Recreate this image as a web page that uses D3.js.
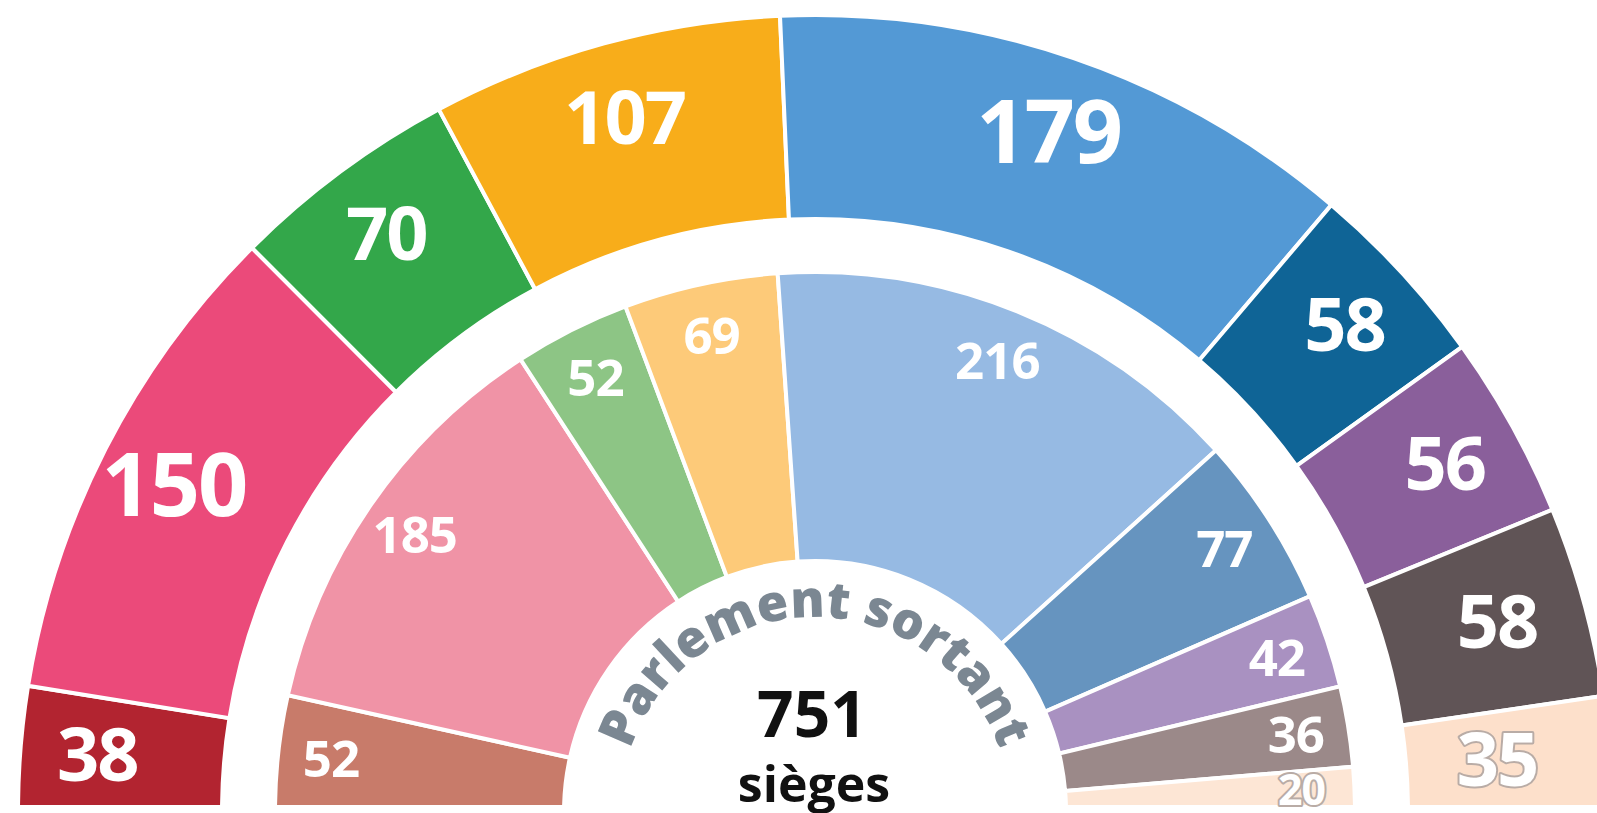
<!DOCTYPE html>
<html><head><meta charset="utf-8">
<script src="https://cdn.jsdelivr.net/npm/d3@7"></script>
<style>
html,body{margin:0;padding:0;background:#fff;}
svg{display:block;}
</style></head>
<body>
<svg id="chart" width="1597" height="813"></svg>
<script>
// ---- data ----
const outerValues = [38, 150, 70, 107, 179, 58, 56, 58, 35];
const outerColors = ["#b22430", "#eb4a7a", "#33a74a", "#f8ad1a", "#5399d5", "#0f6496", "#8a5f9b", "#605456", "#fde0cb"];
const innerValues = [52, 185, 52, 69, 216, 77, 42, 36, 20];
const innerColors = ["#c87b6a", "#f093a6", "#8dc585", "#fdca79", "#96bae3", "#6694bf", "#a991c1", "#9b8989", "#fde6d5"];
const centerTitle = "Parlement sortant";
const centerTotal = "751";
const centerUnit = "sièges";

// ---- layout ----
const W = 1597, H = 813;
const cx = 815, cy = 812;
const clipY = 805;
const R = {outerOut: 797, outerIn: 593, innerOut: 540, innerIn: 251};
const FONT = "'Open Sans', 'Noto Sans', sans-serif";

const svg = d3.select("#chart");
svg.append("defs").append("clipPath").attr("id", "clip")
  .append("rect").attr("x", 0).attr("y", 0).attr("width", W).attr("height", clipY);

const g = svg.append("g").attr("clip-path", "url(#clip)");
const root = g.append("g").attr("transform", `translate(${cx},${cy})`);

const pie = d3.pie().sort(null).value(d => d)
  .startAngle(-Math.PI / 2).endAngle(Math.PI / 2);

function ring(values, colors, rIn, rOut, cls) {
  const arcs = pie(values);
  const arc = d3.arc().innerRadius(rIn).outerRadius(rOut);
  root.selectAll("path." + cls).data(arcs).enter().append("path")
    .attr("class", cls)
    .attr("d", arc)
    .attr("fill", (d, i) => colors[i])
    .attr("stroke", "#fff")
    .attr("stroke-width", 4)
    .attr("stroke-linejoin", "miter");
  return arcs;
}

const outerArcs = ring(outerValues, outerColors, R.outerIn, R.outerOut, "outer");
const innerArcs = ring(innerValues, innerColors, R.innerIn, R.innerOut, "inner");

const labelLayer = svg.append("g").attr("transform", `translate(${cx},${cy})`);

function labels(arcs, colors, r, sizeFn, spacing, cls) {
  labelLayer.selectAll("text." + cls).data(arcs).enter().append("text")
    .attr("class", cls)
    .each(function (d, i) {
      const mid = (d.startAngle + d.endAngle) / 2;
      const size = sizeFn(d, r);
      let x = r * Math.sin(mid), y = -r * Math.cos(mid);
      // keep labels inside the visible page width / height
      x = Math.min(x, W - 100 - cx);
      y = Math.min(y, (clipY - cy) - size * 0.36);
      const light = d3.hsl(colors[i]).l > 0.85;
      d3.select(this)
        .attr("x", x).attr("y", y)
        .attr("dy", "0.36em")
        .attr("text-anchor", "middle")
        .attr("font-family", FONT)
        .attr("font-weight", 700)
        .attr("font-size", size)
        .attr("letter-spacing", spacing)
        .attr("fill", "#fff")
        .attr("stroke", light ? "#b9aca6" : "none")
        .attr("stroke-width", light ? 4 : 0)
        .attr("paint-order", "stroke")
        .attr("stroke-linejoin", "round")
        .text(d.data);
    });
}

labels(outerArcs, outerColors, 720, d => d.data >= 150 ? 88 : 74, -2, "olab");
labels(innerArcs, innerColors, 487, (d, r) => Math.min(51, (d.endAngle - d.startAngle) * r * 1.05), -1, "ilab");

// ---- centre ----
const textR = 195;
svg.append("defs").append("path").attr("id", "tp")
  .attr("d", `M${cx - textR},${cy} A${textR},${textR} 0 0 1 ${cx + textR},${cy}`);

const title = svg.append("text")
  .attr("font-family", FONT).attr("font-weight", 800).attr("font-size", 51)
  .attr("fill", "#7b8792");
const tp = title.append("textPath").attr("href", "#tp")
  .attr("startOffset", "50%").attr("text-anchor", "middle")
  .text(centerTitle);
// spread letters over the arc span (~142 degrees)
const target = textR * (142 * Math.PI / 180);
const len0 = tp.node().getComputedTextLength();
const ls = Math.max(0, (target - len0) / (centerTitle.length - 1));
title.attr("letter-spacing", ls.toFixed(2));

svg.append("text").attr("x", cx - 3).attr("y", 737)
  .attr("text-anchor", "middle")
  .attr("font-family", FONT).attr("font-weight", 700).attr("font-size", 64)
  .attr("fill", "#111").text(centerTotal);
svg.append("text").attr("x", cx - 1).attr("y", 802)
  .attr("text-anchor", "middle")
  .attr("font-family", FONT).attr("font-weight", 700).attr("font-size", 50)
  .attr("fill", "#111").text(centerUnit);
</script>
</body></html>
